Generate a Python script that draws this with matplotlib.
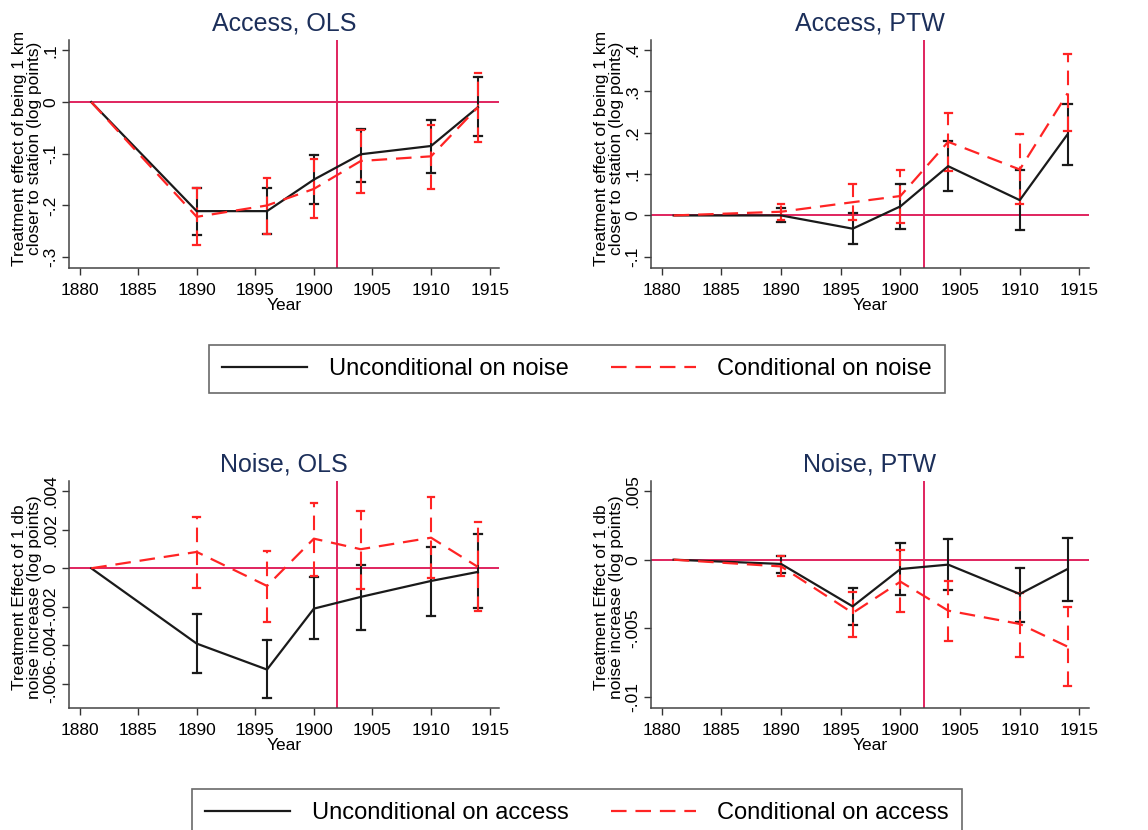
import matplotlib
matplotlib.use("Agg")
import matplotlib.pyplot as plt
from matplotlib.lines import Line2D

plt.rcParams['font.family'] = ['Liberation Sans', 'DejaVu Sans']

# years of the event-study coefficients (1881 is the base year)
years = [1881, 1890, 1896, 1900, 1904, 1910, 1914]

# Access, OLS
acc_ols_unc = [0, -0.211, -0.211, -0.150, -0.101, -0.085, -0.010]
acc_ols_unc_hi = [None, -0.166, -0.166, -0.103, -0.053, -0.035, 0.048]
acc_ols_unc_lo = [None, -0.257, -0.256, -0.197, -0.155, -0.138, -0.066]
acc_ols_con = [0, -0.222, -0.200, -0.168, -0.114, -0.105, -0.010]
acc_ols_con_hi = [None, -0.166, -0.147, -0.111, -0.055, -0.044, 0.056]
acc_ols_con_lo = [None, -0.276, -0.256, -0.224, -0.175, -0.168, -0.077]

# Access, PTW
acc_ptw_unc = [0, 0.000, -0.032, 0.022, 0.119, 0.037, 0.196]
acc_ptw_unc_hi = [None, 0.019, 0.005, 0.076, 0.181, 0.110, 0.269]
acc_ptw_unc_lo = [None, -0.015, -0.068, -0.032, 0.059, -0.036, 0.123]
acc_ptw_con = [0, 0.009, 0.032, 0.047, 0.178, 0.111, 0.295]
acc_ptw_con_hi = [None, 0.027, 0.077, 0.111, 0.248, 0.196, 0.389]
acc_ptw_con_lo = [None, -0.011, -0.011, -0.018, 0.108, 0.027, 0.203]

# Noise, OLS
noi_ols_unc = [0, -0.00392, -0.00527, -0.00210, -0.00149, -0.00066, -0.00019]
noi_ols_unc_hi = [None, -0.00239, -0.00374, -0.00045, 0.00017, 0.00112, 0.00180]
noi_ols_unc_lo = [None, -0.00545, -0.00674, -0.00369, -0.00322, -0.00248, -0.00205]
noi_ols_con = [0, 0.00085, -0.00092, 0.00154, 0.00099, 0.00159, 0.00007]
noi_ols_con_hi = [None, 0.00268, 0.00090, 0.00341, 0.00298, 0.00370, 0.00241]
noi_ols_con_lo = [None, -0.00101, -0.00279, -0.00040, -0.00106, -0.00052, -0.00222]

# Noise, PTW
noi_ptw_unc = [0, -0.00031, -0.00340, -0.00068, -0.00036, -0.00250, -0.00068]
noi_ptw_unc_hi = [None, 0.00024, -0.00209, 0.00121, 0.00150, -0.00063, 0.00158]
noi_ptw_unc_lo = [None, -0.00097, -0.00473, -0.00257, -0.00220, -0.00456, -0.00298]
noi_ptw_con = [0, -0.00049, -0.00388, -0.00160, -0.00371, -0.00468, -0.00633]
noi_ptw_con_hi = [None, 0.00024, -0.00238, 0.00073, -0.00153, -0.00242, -0.00342]
noi_ptw_con_lo = [None, -0.00116, -0.00566, -0.00384, -0.00590, -0.00706, -0.00922]

xticks = [1880, 1885, 1890, 1895, 1900, 1905, 1910, 1915]
treat_year = 1902

acc_label = "Treatment effect of being 1 km\ncloser to station (log points)"
noi_label = "Treatment Effect of 1 db\nnoise increase (log points)"

BLACK = '#1a1a1a'
RED = '#ff2424'
REF = '#e0245e'
TITLE = '#1c2f5a'
DASH = (0, (7, 4))

W, H = 1148, 830
fig = plt.figure(figsize=(W / 100, H / 100), dpi=100)


def px_axes(l, t, r, b):
    return fig.add_axes([l / W, (H - b) / H, (r - l) / W, (b - t) / H])


def errs(ax, vals, hi, lo, color, ls, cap):
    for x, v, h, l in zip(years, vals, hi, lo):
        if h is None:
            continue
        ax.plot([x, x], [l, h], color=color, lw=1.5, ls=ls, zorder=3)
        ax.plot([x - cap, x + cap], [h, h], color=color, lw=1.6, zorder=3)
        ax.plot([x - cap, x + cap], [l, l], color=color, lw=1.6, zorder=3)


def panel(ax, title, unc, unc_hi, unc_lo, con, con_hi, con_lo,
          ylim, yticks, yticklabels, ylabel, ly):
    ax.axhline(0, color=REF, lw=1.4, zorder=1)
    ax.axvline(treat_year, color=REF, lw=1.4, zorder=1)
    errs(ax, unc, unc_hi, unc_lo, BLACK, '-', 0.35)
    errs(ax, con, con_hi, con_lo, RED, DASH, 0.28)
    ax.plot(years, unc, color=BLACK, lw=1.6, zorder=4)
    ax.plot(years, con, color=RED, lw=1.6, ls=DASH, zorder=4)
    ax.set_xlim(1879.1, 1915.8)
    ax.set_ylim(*ylim)
    ax.set_xticks(xticks)
    ax.set_yticks(yticks)
    ax.set_yticklabels(yticklabels, rotation=90, va='center')
    ax.tick_params(labelsize=12.5, length=5, width=1, color='#333333', pad=6)
    ax.tick_params(axis='y', pad=3)
    for s in ['top', 'right']:
        ax.spines[s].set_visible(False)
    for s in ['left', 'bottom']:
        ax.spines[s].set_color('#444444')
        ax.spines[s].set_linewidth(1.1)
    ax.set_title(title, color=TITLE, fontsize=18, pad=7)
    ax.set_xlabel('Year', fontsize=12.5, labelpad=0)
    ax.set_ylabel(ylabel, fontsize=12.5, linespacing=1.0)
    ax.yaxis.set_label_coords(-0.062, ly)


ax1 = px_axes(69, 40, 499, 268)
panel(ax1, 'Access, OLS', acc_ols_unc, acc_ols_unc_hi, acc_ols_unc_lo,
      acc_ols_con, acc_ols_con_hi, acc_ols_con_lo,
      (-0.321, 0.12), [-0.3, -0.2, -0.1, 0, 0.1], ['-.3', '-.2', '-.1', '0', '.1'],
      acc_label, 0.525)

ax2 = px_axes(651, 40, 1089, 268)
panel(ax2, 'Access, PTW', acc_ptw_unc, acc_ptw_unc_hi, acc_ptw_unc_lo,
      acc_ptw_con, acc_ptw_con_hi, acc_ptw_con_lo,
      (-0.127, 0.424), [-0.1, 0, 0.1, 0.2, 0.3, 0.4],
      ['-.1', '0', '.1', '.2', '.3', '.4'], acc_label, 0.525)

ax3 = px_axes(69, 481, 499, 708)
panel(ax3, 'Noise, OLS', noi_ols_unc, noi_ols_unc_hi, noi_ols_unc_lo,
      noi_ols_con, noi_ols_con_hi, noi_ols_con_lo,
      (-0.00727, 0.00454), [-0.006, -0.004, -0.002, 0, 0.002, 0.004],
      ['-.006', '-.004', '-.002', '0', '.002', '.004'], noi_label, 0.49)

ax4 = px_axes(651, 481, 1089, 708)
panel(ax4, 'Noise, PTW', noi_ptw_unc, noi_ptw_unc_hi, noi_ptw_unc_lo,
      noi_ptw_con, noi_ptw_con_hi, noi_ptw_con_lo,
      (-0.0108, 0.00573), [-0.01, -0.005, 0, 0.005],
      ['-.01', '-.005', '0', '.005'], noi_label, 0.49)

h_unc = Line2D([], [], color=BLACK, lw=1.6)
h_con = Line2D([], [], color=RED, lw=1.6, ls=DASH)

leg_kw = dict(loc='center', ncol=2, fontsize=17, frameon=True, fancybox=False,
              edgecolor='#444444', handlelength=3.6, handletextpad=0.9,
              columnspacing=1.8, borderpad=0.55)
leg1 = fig.legend([h_unc, h_con], ['Unconditional on noise', 'Conditional on noise'],
                  bbox_to_anchor=(577 / W, (H - 369) / H), **leg_kw)
leg1.get_frame().set_linewidth(1.2)
# the lower legend box runs past the bottom edge of the figure
leg2 = fig.legend([h_unc, h_con], ['Unconditional on access', 'Conditional on access'],
                  bbox_to_anchor=(577 / W, (H - 813) / H), **leg_kw)
leg2.get_frame().set_linewidth(1.2)

fig.savefig('out.png', dpi=100)
